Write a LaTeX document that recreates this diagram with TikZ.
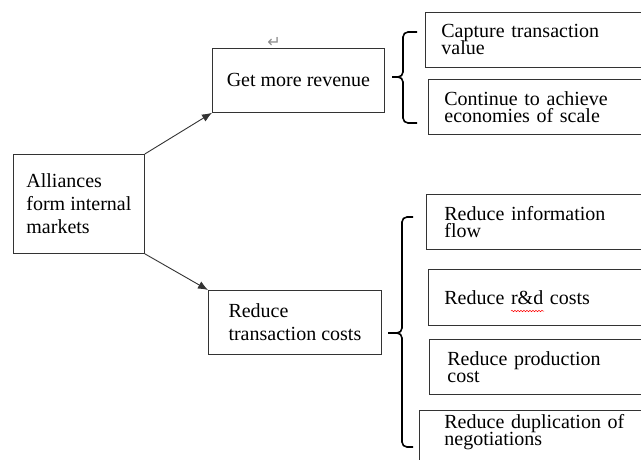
\documentclass[tikz,border=0pt]{standalone}
\usepackage{fontspec}
\setmainfont{Liberation Serif}
\newfontfamily\simbolos{DejaVu Sans}
\usetikzlibrary{arrows.meta}
\usetikzlibrary{decorations.pathmorphing}

\newcommand{\letrag}{\fontsize{20}{23}\selectfont}
\newcommand{\letrach}{\fontsize{20}{17}\selectfont\lineskiplimit=-20pt\relax}

\begin{document}
\begin{tikzpicture}[x=1pt,y=-1pt,>={Latex[length=10pt,width=8pt]}]
\tikzset{caja/.style={draw=black!80,line width=0.8pt,rectangle,anchor=north west,align=left,inner sep=0pt,font=\letrag},
cajad/.style={caja,font=\letrach,minimum height=55pt,text width=220pt},
llave/.style={line width=1.6pt,rounded corners=5pt}}

\useasboundingbox (0,0) rectangle (641,459);
\clip (0,0) rectangle (641,459);

% Cajas principales
\node (1) at (13,154) [caja,minimum width=131pt,minimum height=99pt] {Alliances\\form internal\\markets};
\node (2) at (212,48) [caja,minimum width=172pt,minimum height=64pt] {Get more revenue};
\node (3) at (208,290) [caja,minimum width=173pt,minimum height=64pt] {Reduce\\transaction costs};
\node (m) at (274,42) [font=\simbolos\fontsize{16}{16}\selectfont,text=black!45,inner sep=0pt] {↵};

% Cajas de la derecha (arriba)
\node (4) at (425,12) [cajad,inner xsep=16pt] {Capture transaction\\value};
\node (5) at (428,79) [cajad,inner xsep=16pt] {Continue to achieve\\economies of scale};
% Cajas de la derecha (abajo)
\node (6) at (426,194) [cajad,inner xsep=18pt] {Reduce information\\flow};
\node (7) at (428,269) [cajad,inner xsep=16pt,minimum height=56pt] {Reduce r\&d costs};
\node (8) at (429,339) [cajad,inner xsep=18pt] {Reduce production\\cost};
\node (9) at (419,410) [cajad,draw=none,inner xsep=25pt,inner ysep=4pt,minimum height=0pt] {Reduce duplication of\\negotiations};
\draw[draw=black!80,line width=0.8pt] (9.north east) -- (9.north west) -- ++(0,70);

% subrayado rojo
\draw[red,line width=0.5pt,decorate,decoration={snake,amplitude=0.7pt,segment length=3pt}] (511,311) -- (544,311);

% Llaves
\draw[llave] (417,32) -- (403,32) -- (403,77) -- (392,77);
\draw[llave] (392,77) -- (403,77) -- (403,123) -- (417,123);
\draw[llave] (413,217) -- (402,217) -- (402,333) -- (388,333);
\draw[llave] (388,333) -- (402,333) -- (402,447) -- (413,447);

\path
(1.north east) edge [->,draw=black!80,line width=0.9pt] (2.south west)
(1.south east) edge [->,draw=black!80,line width=0.9pt] (3.north west);

\end{tikzpicture}
\end{document}
